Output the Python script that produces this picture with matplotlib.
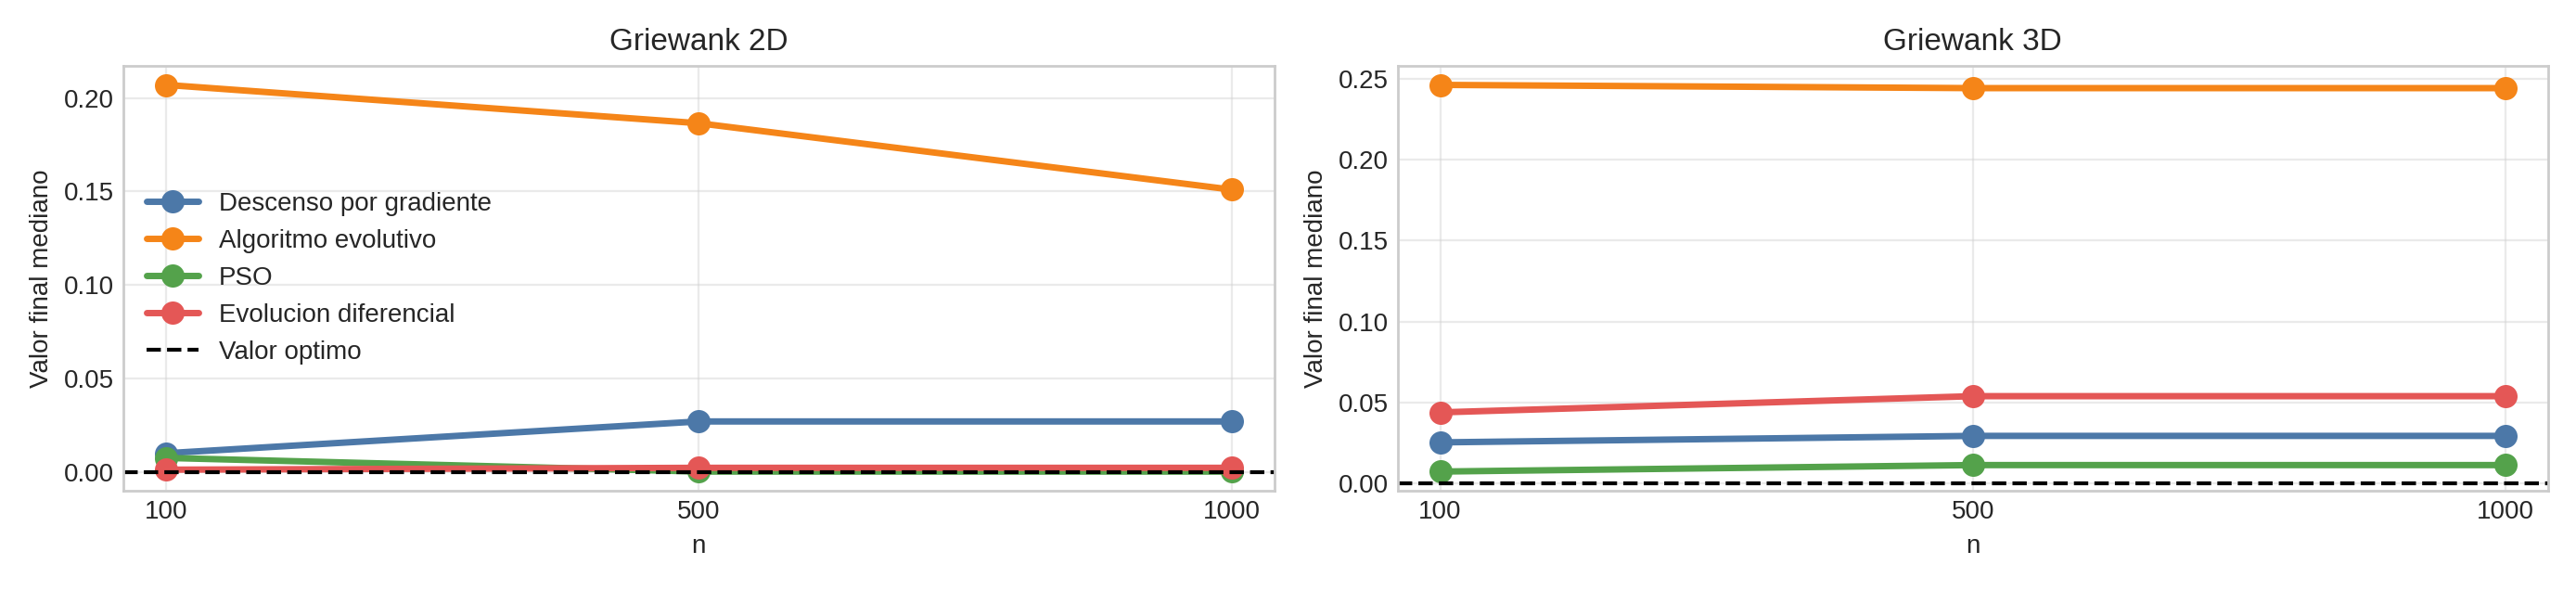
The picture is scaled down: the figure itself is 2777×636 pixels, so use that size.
"""Comparacion de algoritmos en la funcion Griewank (valor final mediano)."""

import numpy as np
import matplotlib.pyplot as plt

plt.style.use('seaborn-v0_8-whitegrid')
plt.rcParams['font.family'] = ['Liberation Sans', 'DejaVu Sans']
plt.rcParams['font.size'] = 10
plt.rcParams['axes.labelsize'] = 10
plt.rcParams['xtick.labelsize'] = 10
plt.rcParams['ytick.labelsize'] = 10

N_VALUES = [100, 500, 1000]
COLORS = {
    'Descenso por gradiente': '#4c78a8',
    'Algoritmo evolutivo': '#f58518',
    'PSO': '#54a24b',
    'Evolucion diferencial': '#e45756',
}
RESULTS = {
    '2D': {
        'Descenso por gradiente': [0.0100, 0.0270, 0.0270],
        'Algoritmo evolutivo': [0.2070, 0.1865, 0.1510],
        'PSO': [0.0075, 0.0002, 0.0002],
        'Evolucion diferencial': [0.0012, 0.0022, 0.0022],
    },
    '3D': {
        'Descenso por gradiente': [0.0255, 0.0295, 0.0295],
        'Algoritmo evolutivo': [0.2460, 0.2440, 0.2440],
        'PSO': [0.0075, 0.0115, 0.0115],
        'Evolucion diferencial': [0.0440, 0.0540, 0.0540],
    },
}


def plot_panel(ax, dim: str, legend: bool = False) -> None:
    """Una curva por algoritmo contra n (eje categorico)."""
    x = np.arange(len(N_VALUES))
    for name, values in RESULTS[dim].items():
        ax.plot(x, values, marker='o', markersize=8, linewidth=2.5,
                color=COLORS[name], label=name)
    ax.axhline(0.0, color='black', linestyle='--', linewidth=1.5, label='Valor optimo')
    ax.set_xticks(x)
    ax.set_xticklabels([str(n) for n in N_VALUES])
    ax.margins(x=0.04)
    ax.set_xlabel('n')
    ax.set_ylabel('Valor final mediano')
    ax.set_title(f'Griewank {dim}', fontsize=12)
    ax.grid(True, alpha=0.4)
    for spine in ax.spines.values():
        spine.set_visible(True)
        spine.set_color('#cccccc')
    if legend:
        ax.legend(loc='center left', fontsize=10)


fig, axs = plt.subplots(1, 2, figsize=(13.885, 3.18))
plot_panel(axs[0], '2D', legend=True)
plot_panel(axs[1], '3D')
fig.tight_layout()
fig.savefig('out.png', dpi=200)
plt.close(fig)
